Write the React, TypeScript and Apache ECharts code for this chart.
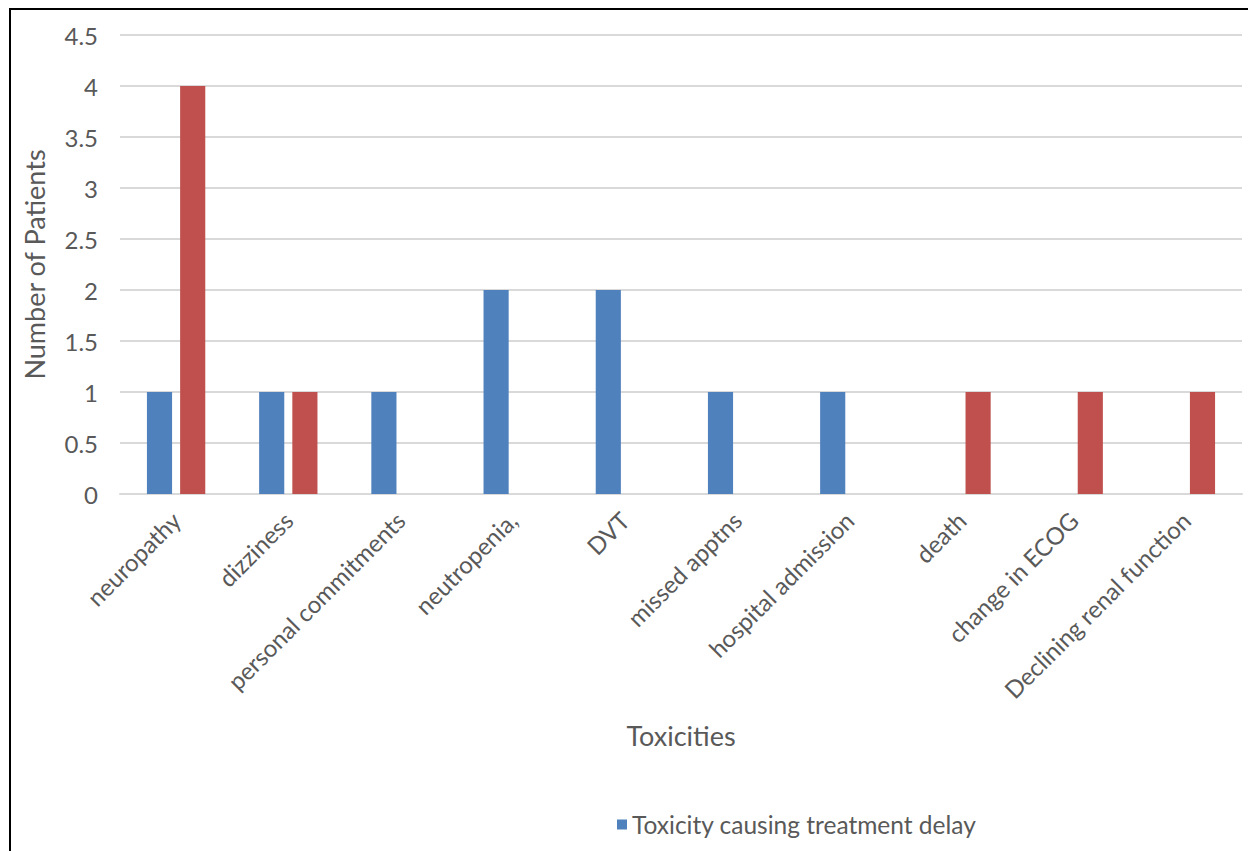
import React, { useEffect, useRef } from "react";
import * as echarts from "echarts";

// Categories of reasons on the x axis
const categories = [
  "neuropathy",
  "dizziness",
  "personal commitments",
  "neutropenia,",
  "DVT",
  "missed apptns",
  "hospital admission",
  "death",
  "change in ECOG",
  "Declining renal function",
];

// Number of patients per category
const delayCounts = [1, 1, 1, 2, 2, 1, 1, 0, 0, 0];
const discontinuationCounts = [4, 1, 0, 0, 0, 0, 0, 1, 1, 1];

const yTicks = { min: 0, max: 4.5, interval: 0.5 };

const FONT = "Lato, 'Open Sans', sans-serif";
const GREY = "#595959";

export default function App() {
  const ref = useRef<HTMLDivElement>(null);

  useEffect(() => {
    if (!ref.current) return;
    const chart = echarts.init(ref.current, undefined, { renderer: "svg" });
    chart.setOption({
      animation: false,
      backgroundColor: "transparent",
      textStyle: { fontFamily: FONT },
      grid: { left: 120, right: 6, top: 35, bottom: 357, containLabel: false },
      legend: {
        data: ["Toxicity causing treatment delay"],
        left: 612,
        top: 807,
        itemWidth: 10,
        itemHeight: 10,
        icon: "rect",
        itemGap: 20,
        textStyle: { fontFamily: FONT, fontSize: 24.5, color: GREY },
      },
      xAxis: {
        type: "category",
        data: categories,
        name: "Toxicities",
        nameLocation: "middle",
        nameGap: 228,
        nameTextStyle: { fontFamily: FONT, fontSize: 27, color: GREY },
        axisLine: { lineStyle: { color: "#D9D9D9", width: 2 } },
        axisTick: { show: false },
        axisLabel: {
          rotate: 45,
          interval: 0,
          margin: 22,
          fontFamily: FONT,
          fontSize: 24,
          color: GREY,
        },
      },
      yAxis: {
        type: "value",
        min: yTicks.min,
        max: yTicks.max,
        interval: yTicks.interval,
        name: "Number of Patients",
        nameLocation: "middle",
        nameGap: 72,
        nameTextStyle: { fontFamily: FONT, fontSize: 27, color: GREY },
        axisLine: { show: false },
        axisTick: { show: false },
        splitLine: { lineStyle: { color: "#D9D9D9", width: 2 } },
        axisLabel: {
          margin: 22,
          fontFamily: FONT,
          fontSize: 24,
          color: GREY,
        },
      },
      series: [
        {
          name: "Toxicity causing treatment delay",
          type: "bar",
          data: delayCounts,
          itemStyle: { color: "#4F81BD" },
          barGap: "32%",
          barCategoryGap: "48%",
        },
        {
          name: "Toxicity causing treatment discontinuation",
          type: "bar",
          data: discontinuationCounts,
          itemStyle: { color: "#C0504D" },
          barGap: "32%",
          barCategoryGap: "48%",
        },
      ],
    });
    return () => chart.dispose();
  }, []);

  return (
    <>
      <div
        style={{
          position: "fixed",
          left: 9,
          top: 8,
          width: 1239,
          height: 843,
          borderTop: "2px solid #000",
          borderLeft: "2px solid #000",
          boxSizing: "border-box",
          background: "#fff",
        }}
      />
      <div
        ref={ref}
        style={{ position: "fixed", left: 0, top: 0, width: 1248, height: 851 }}
      />
    </>
  );
}
